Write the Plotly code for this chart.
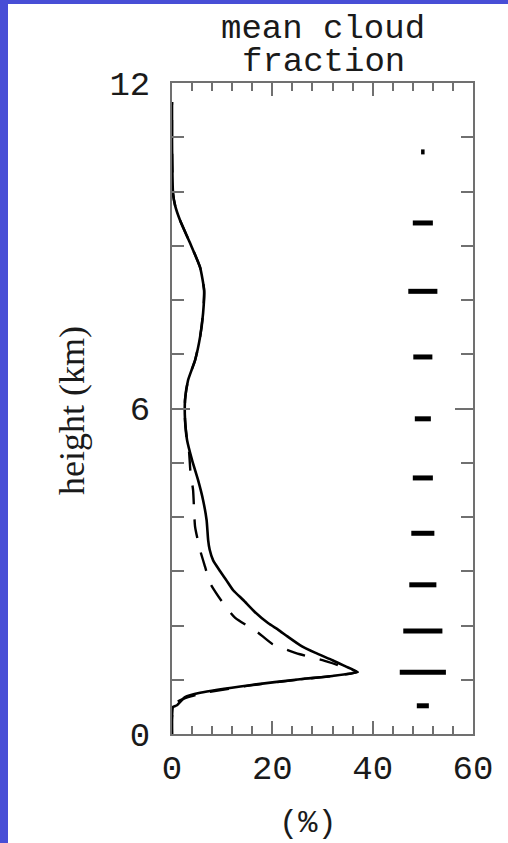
import plotly.graph_objects as go

# ---- data ----
solid_height = [0.0, 0.3, 0.5, 0.53, 0.68, 0.76, 0.9, 1.01, 1.07, 1.14, 1.25, 1.36, 1.5, 1.64, 1.8,
                1.92, 2.04, 2.25, 2.47, 2.65, 2.84, 3.0, 3.2, 3.4, 3.58, 3.94, 4.31, 4.68, 5.05,
                5.42, 5.79, 6.16, 6.52, 6.89, 7.32, 7.76, 8.18, 8.6, 9.05, 9.47, 9.75, 9.97,
                10.5, 11.0, 11.65]
solid_fraction = [0.0, 0.0, 0.2, 1.0, 2.6, 5.6, 15.5, 25.5, 32.0, 37.0, 34.5, 32.0, 28.5, 25.5, 23.0,
                  21.2, 19.2, 16.5, 14.2, 12.2, 10.8, 9.6, 8.2, 7.5, 7.2, 6.9, 6.2, 5.2, 4.0,
                  3.0, 2.6, 2.6, 3.2, 4.6, 5.6, 6.2, 6.4, 5.6, 3.6, 1.6, 0.6, 0.2,
                  0.05, 0.0, 0.0]

dashed_height = [0.0, 0.3, 0.5, 0.6, 0.68, 0.76, 0.9, 1.01, 1.07, 1.14, 1.21, 1.36, 1.47, 1.66,
                 1.88, 2.14, 2.41, 2.78, 3.08, 3.39, 3.82, 4.5, 4.8, 5.2, 5.42, 5.79, 6.16, 6.52,
                 6.89, 7.32, 7.76, 8.18, 8.6, 9.05, 9.47, 9.75, 9.97, 10.5, 11.0, 11.65]
dashed_fraction = [0.0, 0.0, 0.3, 1.2, 3.2, 6.5, 16.0, 26.0, 32.0, 37.0, 35.0, 30.0, 25.5, 20.0,
                   17.0, 12.6, 10.2, 7.6, 6.6, 5.6, 4.6, 4.2, 3.7, 3.4, 3.0, 2.6, 2.6, 3.2,
                   4.6, 5.6, 6.2, 6.4, 5.6, 3.6, 1.6, 0.6, 0.2, 0.05, 0.0, 0.0]

bar_center = 50.0
bar_height = [10.73, 9.42, 8.16, 6.95, 5.81, 4.72, 3.70, 2.75, 1.90, 1.14, 0.52]
bar_halfwidth = [0.35, 2.0, 2.9, 1.9, 1.6, 2.0, 2.3, 2.7, 3.9, 4.6, 1.2]

x_tickvals = [0, 20, 40, 60]
y_tickvals = [0, 6, 12]

title_lines = ["mean cloud", "fraction"]
x_title = "(%)"
y_title = "height (km)"

# ---- build bar segments ----
bx, by = [], []
for h, w in zip(bar_height, bar_halfwidth):
    bx += [bar_center - w, bar_center + w, None]
    by += [h, h, None]

MONO = "Liberation Mono, Courier New, monospace"
SERIF = "Liberation Serif, Times New Roman, serif"
AXC = "#707070"
TXT = "#1a1a1a"

fig = go.Figure()
fig.add_trace(go.Scatter(x=solid_fraction, y=solid_height, mode="lines",
                         line=dict(color="black", width=2.6, shape="spline", smoothing=0.5),
                         hoverinfo="skip"))
fig.add_trace(go.Scatter(x=dashed_fraction, y=dashed_height, mode="lines",
                         line=dict(color="black", width=2.4, dash="19px,15px",
                                   shape="spline", smoothing=0.5),
                         hoverinfo="skip"))
fig.add_trace(go.Scatter(x=bx, y=by, mode="lines",
                         line=dict(color="black", width=5), hoverinfo="skip"))

fig.update_layout(
    width=508, height=843,
    margin=dict(l=172, r=35, t=83, b=109, autoexpand=False),
    paper_bgcolor="rgb(72,78,214)",
    plot_bgcolor="white",
    showlegend=False,
    shapes=[dict(type="rect", xref="paper", yref="paper",
                 x0=(8 - 172) / 301, x1=(520 - 172) / 301,
                 y0=(734 - 860) / 651, y1=1 + (83 - 4) / 651,
                 fillcolor="white", line=dict(width=0), layer="below")],
    xaxis=dict(range=[0, 60], tickvals=x_tickvals, ticks="inside", ticklen=13, tickwidth=1.5,
               tickcolor=AXC, showline=True, linecolor=AXC, linewidth=2, mirror="ticks",
               showgrid=False, zeroline=False, ticklabelstandoff=2,
               tickfont=dict(family=MONO, size=34, color=TXT),
               minor=dict(dtick=4, ticks="inside", ticklen=8, tickwidth=1.5, tickcolor=AXC,
                          showgrid=False)),
    yaxis=dict(range=[0, 12], tickvals=y_tickvals, ticks="inside", ticklen=18, tickwidth=1.5,
               tickcolor=AXC, showline=True, linecolor=AXC, linewidth=2, mirror="ticks",
               showgrid=False, zeroline=False, ticklabelstandoff=13,
               tickfont=dict(family=MONO, size=34, color=TXT),
               minor=dict(dtick=1, ticks="inside", ticklen=12, tickwidth=1.5, tickcolor=AXC,
                          showgrid=False)),
    annotations=[
        dict(text=title_lines[0], xref="paper", yref="paper", x=0.502, y=1 + (83 - 29) / 651,
             xanchor="center", yanchor="middle", showarrow=False,
             font=dict(family=MONO, size=34, color=TXT)),
        dict(text=title_lines[1], xref="paper", yref="paper", x=0.502, y=1 + (83 - 62) / 651,
             xanchor="center", yanchor="middle", showarrow=False,
             font=dict(family=MONO, size=34, color=TXT)),
        dict(text=x_title, xref="paper", yref="paper", x=(308 - 172) / 301, y=(734 - 823) / 651,
             xanchor="center", yanchor="middle", showarrow=False,
             font=dict(family=MONO, size=32, color=TXT)),
        dict(text=y_title, xref="paper", yref="paper", x=(72 - 172) / 301, y=(734 - 411) / 651,
             xanchor="center", yanchor="middle", showarrow=False, textangle=-90,
             font=dict(family=SERIF, size=36, color=TXT)),
    ],
)

fig.write_html("out.html", config={"displayModeBar": False},
               post_script="document.body.style.margin='0';document.body.style.overflow='hidden';")
